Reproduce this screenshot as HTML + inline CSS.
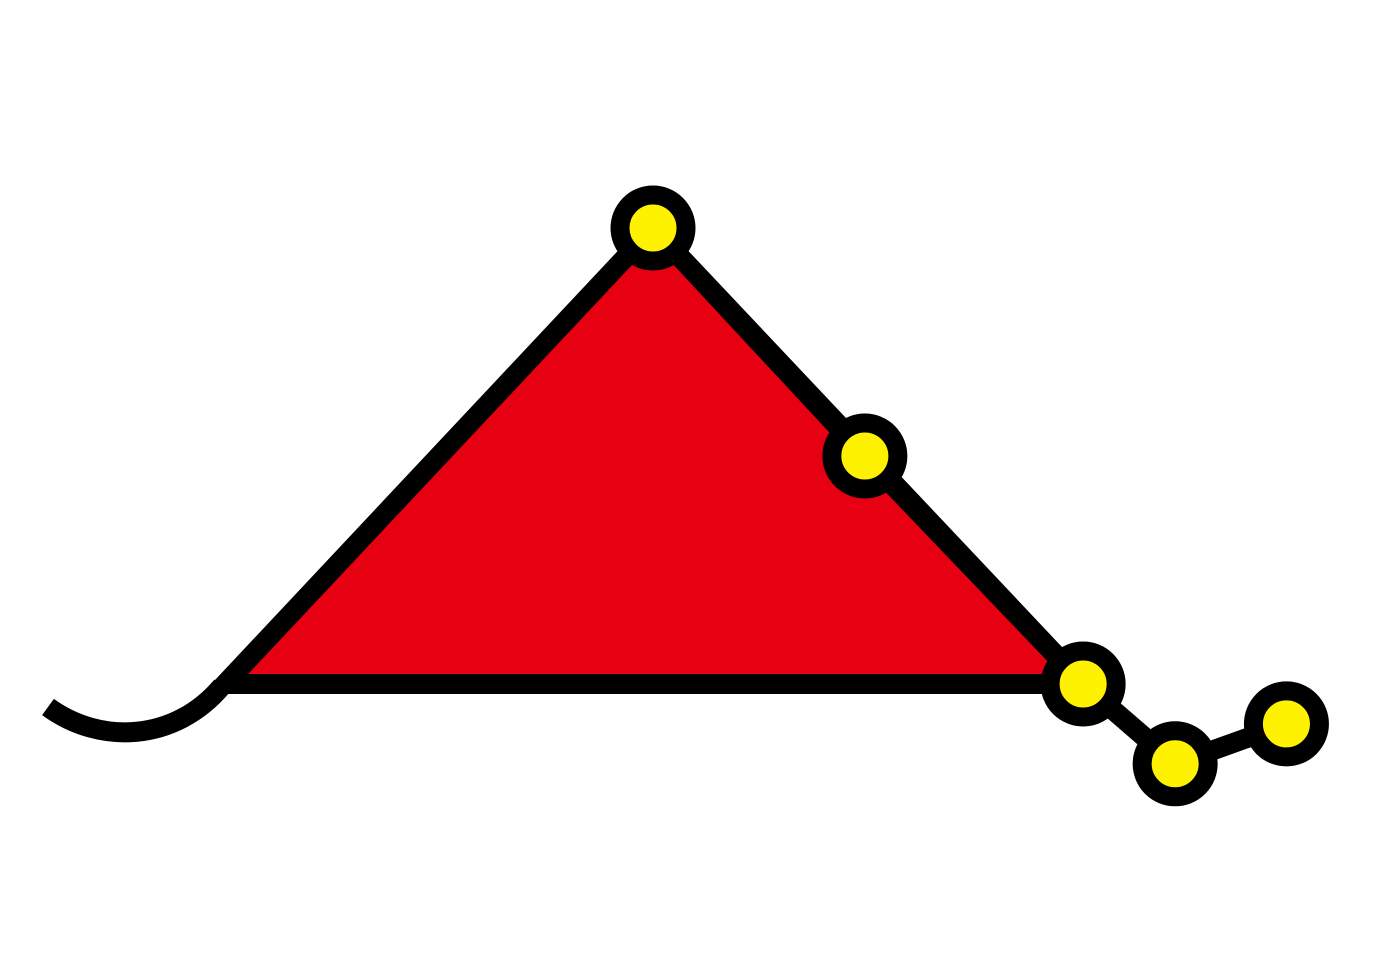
<!DOCTYPE html>
<html><head><meta charset="utf-8"><style>html,body{margin:0;padding:0;background:#fff;width:1375px;height:975px;overflow:hidden}</style></head>
<body>
<svg id="chart" width="1375" height="975" viewBox="0 0 1375 975" xmlns="http://www.w3.org/2000/svg">
<path d="M48,707 C100,745 175,742 222,686" fill="none" stroke="#000" stroke-width="20"/>
<g id="marks"></g>
</svg>
<script>
const xVals = [2, 2.99, 4.01, 4.44, 4.96];
const yVals = [2, 1, 0, -0.35, -0.175];
const baseX = 0;
const xS = v => 225 + v * 214;
const yS = v => 684 - v * 228;
const NS = 'http://www.w3.org/2000/svg';
const g = document.getElementById('marks');
function mk(t, a) { const e = document.createElementNS(NS, t); for (const k in a) e.setAttribute(k, a[k]); g.appendChild(e); return e; }
// filled triangle: base-left, apex, base-right
const tri = mk('polygon', {points: `${xS(baseX)},${yS(0)} ${xS(xVals[0])},${yS(yVals[0])} ${xS(xVals[2])},${yS(yVals[2])}`, fill: '#E60012', stroke: '#000', 'stroke-width': 20, 'stroke-linejoin': 'miter'});


const pts = xVals.map((x, i) => `${xS(x)},${yS(yVals[i])}`).join(' ');
const line = mk('polyline', {points: pts, fill: 'none', stroke: '#000', 'stroke-width': 20});


xVals.forEach((x, i) => {
  const c = mk('circle', {cx: xS(x), cy: yS(yVals[i]), r: 33, fill: '#FFF200', stroke: '#000', 'stroke-width': 19});
  
  
});
</script>
</body></html>
